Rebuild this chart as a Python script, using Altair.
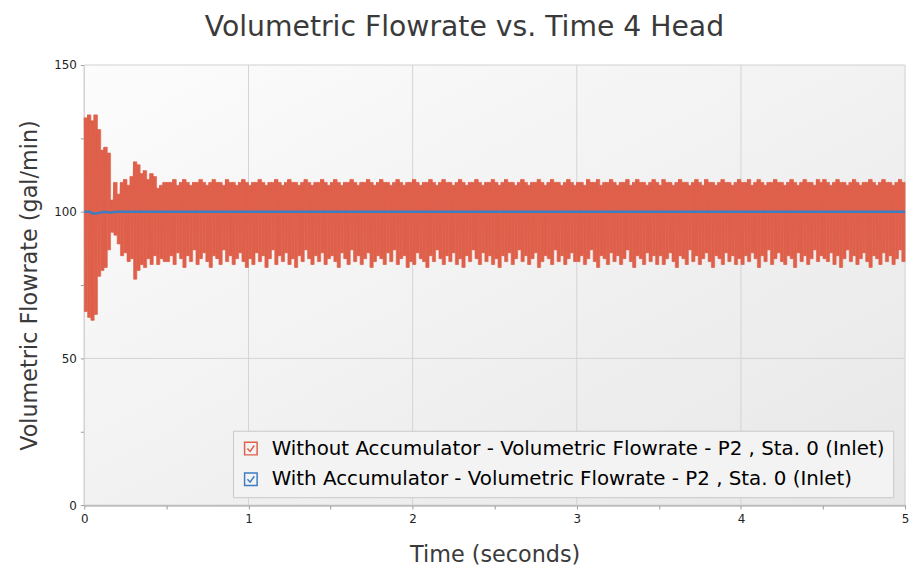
import altair as alt
import pandas as pd

series_names = [
    "Without Accumulator - Volumetric Flowrate - P2 , Sta. 0 (Inlet)",
    "With Accumulator - Volumetric Flowrate - P2 , Sta. 0 (Inlet)",
]
series_colors = ["#df604b", "#3d7dc2"]

# Without accumulator: alternating peak / trough readings, one every 0.01 s
time_step = 0.01
peaks = [
    132, 133, 131, 133, 128, 121, 122, 120, 104, 110, 106, 110, 111, 109, 112, 117, 116, 113, 114, 111, 113, 112, 108, 109, 110,
    110, 110, 111, 109, 110, 111, 110, 109, 110, 110, 111, 110, 109, 110, 111, 110, 110, 109, 111, 110, 110, 109, 110, 111, 110,
    109, 110, 110, 111, 110, 109, 110, 110, 111, 110, 109, 110, 111, 110, 110, 109, 110, 111, 110, 109, 110, 110, 111, 110, 109,
    110, 111, 110, 109, 110, 110, 111, 110, 109, 110, 110, 111, 110, 109, 110, 111, 110, 110, 109, 110, 111, 110, 109, 110, 110,
    111, 110, 109, 110, 110, 111, 110, 109, 110, 111, 110, 110, 109, 110, 111, 110, 109, 110, 110, 111, 110, 109, 110, 110, 111,
    110, 109, 110, 111, 110, 110, 109, 110, 111, 110, 109, 110, 110, 111, 110, 109, 110, 111, 110, 110, 109, 110, 111, 110, 109,
    110, 110, 109, 111, 110, 110, 111, 109, 110, 110, 111, 110, 109, 110, 110, 111, 109, 110, 111, 110, 110, 109, 110, 111, 110,
    109, 111, 110, 110, 109, 110, 111, 110, 110, 109, 110, 111, 110, 109, 111, 110, 110, 109, 110, 111, 110, 110, 109, 110, 111,
    110, 110, 111, 109, 110, 111, 110, 109, 110, 110, 111, 110, 110, 109, 110, 111, 110, 109, 110, 111, 110, 110, 109, 111, 110,
    111, 110, 109, 110, 111, 110, 110, 109, 110, 111, 110, 109, 110, 110, 111, 110, 109, 110, 111, 110, 110, 109, 110, 111, 110,
]
troughs = [
    66, 64, 63, 65, 78, 80, 81, 87, 93, 92, 89, 85, 86, 83, 84, 77, 80, 82, 81, 84, 82, 85, 82, 84, 83,
    83, 85, 82, 86, 84, 81, 85, 83, 87, 82, 84, 86, 83, 81, 85, 84, 82, 87, 83, 85, 82, 84, 86, 83, 81,
    84, 82, 86, 83, 85, 81, 84, 87, 82, 85, 83, 86, 82, 84, 81, 85, 83, 87, 84, 82, 85, 83, 86, 82, 84,
    85, 83, 81, 86, 84, 82, 87, 83, 85, 82, 84, 86, 81, 83, 85, 84, 82, 86, 83, 87, 82, 84, 85, 81, 83,
    82, 86, 84, 83, 81, 85, 83, 87, 84, 82, 85, 83, 86, 82, 84, 81, 85, 83, 87, 84, 82, 86, 83, 85, 82,
    84, 81, 85, 83, 86, 82, 84, 87, 83, 85, 82, 84, 86, 81, 83, 85, 84, 82, 87, 83, 85, 82, 84, 86, 83,
    83, 85, 82, 84, 87, 83, 81, 85, 84, 82, 86, 83, 85, 82, 84, 87, 83, 81, 85, 84, 82, 86, 83, 85, 82,
    85, 82, 84, 86, 83, 81, 85, 84, 82, 87, 83, 85, 82, 84, 86, 83, 81, 85, 84, 82, 86, 83, 85, 82, 84,
    82, 85, 83, 86, 84, 81, 85, 83, 87, 82, 84, 86, 83, 82, 85, 84, 81, 86, 83, 85, 82, 84, 87, 83, 85,
    84, 83, 86, 82, 85, 81, 84, 87, 83, 85, 82, 84, 86, 83, 81, 85, 84, 82, 86, 83, 85, 82, 84, 87, 83,
]

# With accumulator: essentially flat at 100 gal/min
with_t = [0, 0.03, 0.05, 0.07, 0.09, 0.12, 0.15, 0.17, 0.2, 5]
with_q = [100, 100, 99.5, 99.4, 99.6, 100, 99.7, 99.8, 100, 100]

x_ticks = [0, 0.5, 1, 1.5, 2, 2.5, 3, 3.5, 4, 4.5, 5]
y_ticks = [0, 25, 50, 75, 100, 125, 150]
grid_x = [1, 2, 3, 4]
grid_y = [50, 100]

W, H = 828, 444
FONT = "DejaVu Sans"

red_t, red_q = [], []
cyc_t0, cyc_t1 = [], []
for k in range(len(peaks)):
    red_t += [round(2 * k * time_step, 3), round((2 * k + 1) * time_step, 3)]
    red_q += [peaks[k], troughs[k]]
    cyc_t0.append(round(2 * k * time_step, 3))
    cyc_t1.append(round(min((2 * k + 2) * time_step, 5.0), 3))
df_red = pd.DataFrame({"t": red_t, "q": red_q, "series": series_names[0]})
df_cyc = pd.DataFrame({"t0": cyc_t0, "t1": cyc_t1, "lo": troughs, "hi": peaks})
df_blue = pd.DataFrame({"t": with_t, "q": with_q, "series": series_names[1]})

xscale = alt.Scale(domain=[0, 5], nice=False, zero=False)
yscale = alt.Scale(domain=[0, 150], nice=False)

xaxis = alt.Axis(
    title="Time (seconds)", values=x_ticks,
    labelExpr="datum.value % 1 === 0 ? format(datum.value, 'd') : ''",
    labelFlush=False, labelPadding=5, tickSize=4,
    titleX=W / 2, titleY=50, titleBaseline="middle", titleAlign="center",
)
yaxis = alt.Axis(
    title="Volumetric Flowrate (gal/min)", values=y_ticks,
    labelExpr="datum.value % 50 === 0 ? format(datum.value, 'd') : ''",
    labelFlush=False, labelPadding=4, tickSize=4,
    titleX=-55, titleY=H / 2, titleBaseline="middle", titleAlign="center", titleAngle=270,
)

grad = alt.LinearGradient(
    gradient="linear",
    stops=[alt.GradientStop(color="#fcfcfc", offset=0), alt.GradientStop(color="#e7e7e7", offset=1)],
    x1=0, y1=0, x2=1, y2=1,
)

bg = alt.Chart(pd.DataFrame({"k": [0]})).mark_rect(
    color=grad, stroke="#d0d0d0", strokeWidth=1
).encode(x=alt.value(0), x2=alt.value(W), y=alt.value(0), y2=alt.value(H))

gx = alt.Chart(pd.DataFrame({"t": grid_x})).mark_rule(color="#d3d3d3", strokeWidth=1).encode(
    x=alt.X("t:Q", scale=xscale, axis=xaxis)
)
gy = alt.Chart(pd.DataFrame({"q": grid_y})).mark_rule(color="#d3d3d3", strokeWidth=1).encode(
    y=alt.Y("q:Q", scale=yscale, axis=yaxis)
)

band = alt.Chart(df_cyc).mark_rect(color=series_colors[0], stroke=series_colors[0], strokeWidth=0.6).encode(
    x=alt.X("t0:Q", scale=xscale, axis=xaxis),
    x2="t1:Q",
    y=alt.Y("lo:Q", scale=yscale, axis=yaxis),
    y2="hi:Q",
)

check_path = "M-1,-1H1V1H-1Z M-0.55,0.0 L-0.12,0.45 L0.55,-0.5"
legend = alt.Legend(
    title=None, orient="none", legendX=150, legendY=369,
    fillColor="#f3f3f3", strokeColor="#c8c8c8", padding=8,
    labelFont=FONT, labelFontSize=20, labelColor="#000000", labelLimit=900,
    symbolType=check_path, symbolSize=160, symbolStrokeWidth=1.5,
    symbolFillColor="transparent", rowPadding=11, labelOffset=11,
)
color = alt.Color("series:N", scale=alt.Scale(domain=series_names, range=series_colors), legend=legend)

red = alt.Chart(df_red).mark_line(strokeWidth=1).encode(
    x=alt.X("t:Q", scale=xscale, axis=xaxis),
    y=alt.Y("q:Q", scale=yscale, axis=yaxis),
    color=color,
)
blue = alt.Chart(df_blue).mark_line(strokeWidth=2.5).encode(
    x=alt.X("t:Q", scale=xscale, axis=xaxis),
    y=alt.Y("q:Q", scale=yscale, axis=yaxis),
    color=color,
)

chart = alt.layer(bg, gx, gy, band, red, blue).properties(
    width=W, height=H,
    autosize=alt.AutoSizeParams(type="none"),
    padding={"left": 77, "top": 55, "right": 8, "bottom": 68},
    title=alt.TitleParams(
        "Volumetric Flowrate vs. Time 4 Head", font=FONT, fontSize=28.5,
        fontWeight="normal", color="#3a3a3a", frame="bounds", anchor="middle", offset=18,
    ),
).configure_view(stroke=None).configure_axis(
    domainColor="#9c9c9c", domainWidth=2, tickColor="#9c9c9c",
    labelFont=FONT, labelFontSize=12, labelColor="#222222",
    titleFont=FONT, titleFontSize=22.5, titleColor="#3a3a3a", titleFontWeight="normal",
    grid=False, zindex=1,
)

chart.save("out.html", embed_options={"renderer": "svg", "actions": False})
